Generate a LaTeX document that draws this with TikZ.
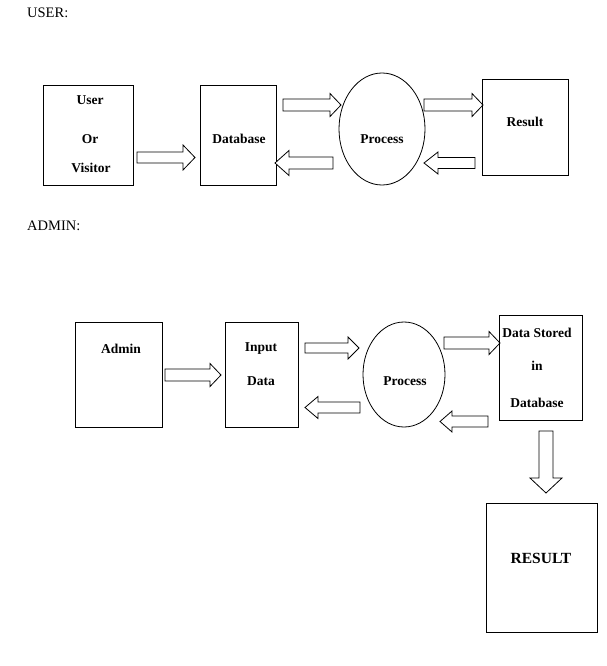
\documentclass[tikz,border=0pt]{standalone}
\usepackage{fontspec}
\setmainfont{Liberation Serif}
\usetikzlibrary{shapes.geometric}
\tikzset{
  box/.style={draw, line width=0.8pt, rectangle, inner sep=0pt},
  proc/.style={draw, line width=0.8pt, ellipse, inner sep=0pt},
  lbl/.style={font=\bfseries\fontsize{13.5}{16}\selectfont, inner sep=0pt},
  head/.style={font=\fontsize{14.5}{17}\selectfont, inner sep=0pt, anchor=west},
  barrow/.style={draw, line width=0.8pt, line join=miter, fill=white}
}
% right-pointing block arrow: tail x, tip x, centre y, shaft half, head half, head length
\newcommand{\myrarrow}[6]{%
  \draw[barrow] (#1,#3-#4) -- (#2-#6,#3-#4) -- (#2-#6,#3-#5) -- (#2,#3) -- (#2-#6,#3+#5) -- (#2-#6,#3+#4) -- (#1,#3+#4) -- cycle;}
% left-pointing block arrow: tail x, tip x, centre y, shaft half, head half, head length
\newcommand{\mylarrow}[6]{%
  \draw[barrow] (#1,#3-#4) -- (#2+#6,#3-#4) -- (#2+#6,#3-#5) -- (#2,#3) -- (#2+#6,#3+#5) -- (#2+#6,#3+#4) -- (#1,#3+#4) -- cycle;}
% down-pointing block arrow: tail y, tip y, centre x, shaft half, head half, head length
\newcommand{\mydarrow}[6]{%
  \draw[barrow] (#3-#4,#1) -- (#3-#4,#2-#6) -- (#3-#5,#2-#6) -- (#3,#2) -- (#3+#5,#2-#6) -- (#3+#4,#2-#6) -- (#3+#4,#1) -- cycle;}
\begin{document}
\begin{tikzpicture}[x=1pt,y=-1pt]
\useasboundingbox (0,0) rectangle (606,666);

% ---------------- USER section ----------------
\node[head] (userhead) at (27,13) {USER:};

\node[box, minimum width=90pt, minimum height=100pt] (user) at (88,135) {};
\node[lbl] (userT1) at (90,100) {User};
\node[lbl] (userT2) at (90,139) {Or};
\node[lbl] (userT3) at (91,168) {Visitor};

\node[box, minimum width=76pt, minimum height=100pt] (db) at (238,135) {};
\node[lbl] (dbT) at (239,139) {Database};

\node[proc, minimum width=86pt, minimum height=112pt] (proc1) at (382,129) {};
\node[lbl] (proc1T) at (382,139) {Process};

\node[box, minimum width=86pt, minimum height=96pt] (res1) at (525,127) {};
\node[lbl] (res1T) at (525,122) {Result};

\myrarrow{137}{195}{157.5}{5.5}{12.5}{12}
\myrarrow{283}{341}{105}{6}{11.5}{11}
\mylarrow{333}{275}{163}{6}{12.5}{14}
\myrarrow{424}{483}{105}{6}{11.5}{11}
\mylarrow{475}{424}{163}{5.5}{11}{14}

% ---------------- ADMIN section ----------------
\node[head] (adminhead) at (27,226) {ADMIN:};

\node[box, minimum width=87pt, minimum height=105pt] (admin) at (118.5,374.5) {};
\node[lbl] (adminT) at (121,349) {Admin};

\node[box, minimum width=73pt, minimum height=105pt] (input) at (261.5,374.5) {};
\node[lbl] (inputT1) at (261,349) {Input};
\node[lbl] (inputT2) at (261,381) {Data};

\node[proc, minimum width=82pt, minimum height=105pt] (proc2) at (404,374.5) {};
\node[lbl] (proc2T) at (405,381) {Process};

\node[box, minimum width=83pt, minimum height=105pt] (stored) at (540.5,367.5) {};
\node[lbl] (storedT1) at (537,333) {Data Stored};
\node[lbl] (storedT2) at (537,366) {in};
\node[lbl] (storedT3) at (537,403) {Database};

\node[box, minimum width=111pt, minimum height=129pt] (res2) at (541.5,567.5) {};
\node[lbl, font=\bfseries\fontsize{15.5}{18}\selectfont] (res2T) at (541,558) {RESULT};

\myrarrow{165}{221}{375}{6}{11.5}{11}
\myrarrow{305}{359}{348}{5}{11}{11}
\mylarrow{360}{305}{407.5}{5.5}{11}{13}
\myrarrow{444}{500}{343}{6}{11.5}{11}
\mylarrow{488}{440}{421.5}{5.5}{10.5}{12}
\mydarrow{431}{493}{546}{7}{16}{15}
\end{tikzpicture}
\end{document}
